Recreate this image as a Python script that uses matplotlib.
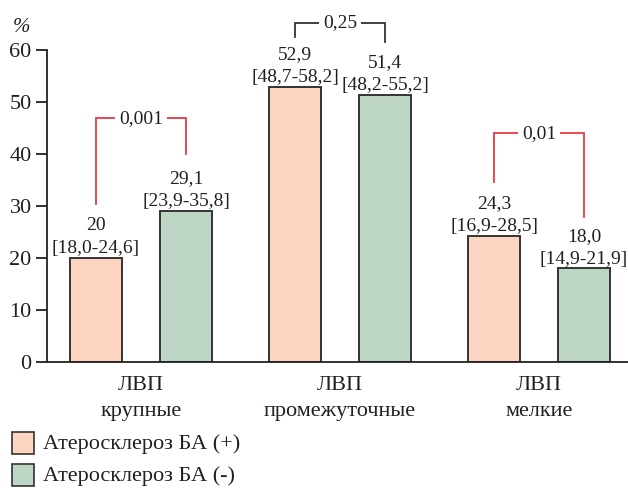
import matplotlib
matplotlib.use("Agg")
import matplotlib.pyplot as plt
from matplotlib.patches import Rectangle

plt.rcParams['font.family'] = ['Liberation Serif', 'DejaVu Serif']

# data
groups = ['ЛВП\nкрупные', 'ЛВП\nпромежуточные', 'ЛВП\nмелкие']
series = ['Атеросклероз БА (+)', 'Атеросклероз БА (-)']
vals_pos = [20, 52.9, 24.3]
vals_neg = [29.1, 51.4, 18.0]
ci_pos = ['[18,0-24,6]', '[48,7-58,2]', '[16,9-28,5]']
ci_neg = ['[23,9-35,8]', '[48,2-55,2]', '[14,9-21,9]']
lbl_pos = ['20', '52,9', '24,3']
lbl_neg = ['29,1', '51,4', '18,0']
p_values = ['0,001', '0,25', '0,01']
# bracket heights: top, left foot, right foot
br_top = [46.9, 65.2, 44.0]
br_left = [30.4, 62.5, 34.6]
br_right = [40.0, 61.6, 27.9]

txt = '#231f20'
c_pos = '#fdd3c1'
c_neg = '#bdd5c4'
red = '#e83a44'
br_colors = [red, '#333333', red]

W, H = 628, 488
fig = plt.figure(figsize=(W / 100, H / 100), dpi=100)
ax = fig.add_axes([47 / W, 126 / H, 581 / W, 312 / H])

off = 0.226
bw = 0.261
x = range(len(groups))
bars1 = ax.bar([i - off for i in x], vals_pos, bw, color=c_pos, edgecolor='#333333', linewidth=1.4)
bars2 = ax.bar([i + off for i in x], vals_neg, bw, color=c_neg, edgecolor='#333333', linewidth=1.4)

for bars, lbls, cis in [(bars1, lbl_pos, ci_pos), (bars2, lbl_neg, ci_neg)]:
    for b, l, c in zip(bars, lbls, cis):
        ax.annotate(l + '\n' + c, (b.get_x() + b.get_width() / 2, b.get_height()),
                    xytext=(0, 0.5), textcoords='offset points', ha='center', va='bottom',
                    fontsize=14, color=txt, linespacing=1.45, annotation_clip=False)

# significance brackets
for i, p in enumerate(p_values):
    xl, xr = i - off, i + off
    ax.plot([xl, xl, xr, xr], [br_left[i], br_top[i], br_top[i], br_right[i]],
            color=br_colors[i], lw=1.3, clip_on=False, solid_joinstyle='miter')
    ax.text(i, br_top[i], p, ha='center', va='center', fontsize=14, color=txt,
            bbox=dict(facecolor='white', edgecolor='none', pad=3))

ax.set_xlim(-0.4724, 2.447)
ax.set_ylim(0, 60)
ax.set_yticks(range(0, 61, 10))
ax.set_xticks(list(x))
ax.set_xticklabels(groups, linespacing=1.5)
ax.tick_params(axis='x', length=0, pad=10, labelsize=16, colors=txt)
ax.tick_params(axis='y', length=8, width=1.3, pad=3, labelsize=16, colors=txt)
for s in ['top', 'right']:
    ax.spines[s].set_visible(False)
for s in ['left', 'bottom']:
    ax.spines[s].set_linewidth(1.3)
    ax.spines[s].set_color('#222222')

fig.text(21 / W, 1 - 28 / H, '%', ha='center', va='center', fontsize=15,
         style='italic', color=txt)

# legend
for k, (name, col) in enumerate(zip(series, [c_pos, c_neg])):
    top = 432 + 32 * k
    fig.add_artist(Rectangle((12 / W, 1 - (top + 22) / H), 22 / W, 22 / H,
                             transform=fig.transFigure, facecolor=col,
                             edgecolor='#333333', linewidth=1.2))
    fig.text(43 / W, 1 - (top + 12) / H, name, ha='left', va='center',
             fontsize=16, color=txt)

fig.savefig('out.png', dpi=100)
